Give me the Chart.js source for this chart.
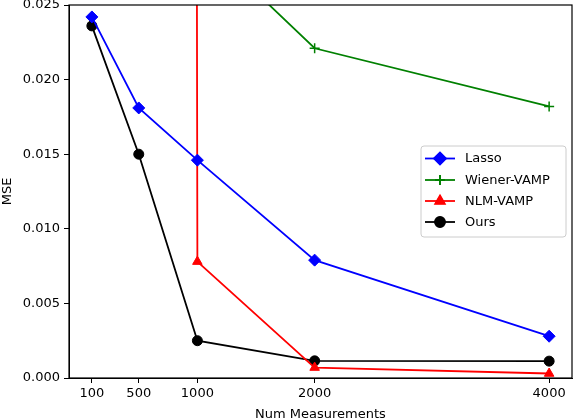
<!DOCTYPE html>
<html>
<head>
<meta charset="utf-8">
<script src="https://cdn.jsdelivr.net/npm/chart.js@4"></script>
<style>
html,body{margin:0;padding:0;background:#fff;}
#wrap{width:576px;height:420px;}
</style>
</head>
<body>
<div id="wrap"><canvas id="c" width="576" height="420"></canvas></div>
<script>
const measurements = [100, 500, 1000, 2000, 4000];
const xTickValues = [100, 500, 1000, 2000, 4000];
const lasso = [0.0242, 0.0181, 0.0146, 0.0079, 0.0028];
const wienerVamp = [0.045, 0.036, 0.0296, 0.0221, 0.0182];
const nlmVamp = [3.0, 2.5, 0.0078, 0.0007, 0.0003];
const ours = [0.0236, 0.0150, 0.0025, 0.00115, 0.00113];
const seriesNames = ['Lasso', 'Wiener-VAMP', 'NLM-VAMP', 'Ours'];

const FONT = 'DejaVu Sans';
function pts(arr){ return measurements.map((m,i)=>({x:m, y:arr[i]})); }

const specs = [
  {data: lasso, color:'#0000ff', style:'rectRot', r:6},
  {data: wienerVamp, color:'#008000', style:'cross', r:5},
  {data: nlmVamp, color:'#ff0000', style:'triangle', r:5.5},
  {data: ours, color:'#000000', style:'circle', r:5}
];

const datasets = specs.map((s,i)=>({
  label: seriesNames[i],
  data: pts(s.data),
  borderColor: s.color,
  backgroundColor: s.color,
  borderWidth: 1.8,
  pointStyle: s.style,
  pointRadius: s.r,
  pointHoverRadius: s.r,
  pointBorderWidth: s.style==='cross' ? 1.5 : 1,
  pointBorderColor: s.color,
  pointBackgroundColor: s.color,
  tension: 0,
  fill: false
}));

const framePlugin = {
  id: 'frame',
  afterDatasetsDraw(chart){
    const {ctx, chartArea:a} = chart;
    ctx.save();
    ctx.strokeStyle = '#000';
    ctx.lineWidth = 1.2;
    ctx.strokeRect(a.left, a.top, a.right-a.left, a.bottom-a.top);
    ctx.restore();
  },
  afterDraw(chart){
    const ctx = chart.ctx;
    ctx.save();
    const bx=421, by=146, bw=145, bh=91, rr=3;
    ctx.fillStyle='rgba(255,255,255,0.8)';
    ctx.strokeStyle='#cccccc';
    ctx.lineWidth=1;
    ctx.beginPath();
    ctx.moveTo(bx+rr,by); ctx.lineTo(bx+bw-rr,by); ctx.quadraticCurveTo(bx+bw,by,bx+bw,by+rr);
    ctx.lineTo(bx+bw,by+bh-rr); ctx.quadraticCurveTo(bx+bw,by+bh,bx+bw-rr,by+bh);
    ctx.lineTo(bx+rr,by+bh); ctx.quadraticCurveTo(bx,by+bh,bx,by+bh-rr);
    ctx.lineTo(bx,by+rr); ctx.quadraticCurveTo(bx,by,bx+rr,by);
    ctx.closePath(); ctx.fill(); ctx.stroke();
    const rows=[158.5,180,201,222];
    chart.data.datasets.forEach((ds,i)=>{
      const y=rows[i];
      ctx.strokeStyle=ds.borderColor; ctx.lineWidth=ds.borderWidth;
      ctx.beginPath(); ctx.moveTo(425,y); ctx.lineTo(455,y); ctx.stroke();
      Chart.helpers.drawPoint(ctx,{pointStyle:ds.pointStyle, radius:ds.pointRadius, rotation:0, borderWidth:ds.pointBorderWidth}, 440, y);
      ctx.fillStyle=ds.borderColor; ctx.strokeStyle=ds.borderColor;
      ctx.lineWidth=ds.pointBorderWidth;
      if(ds.pointStyle!=='cross'){ ctx.fill(); }
      ctx.stroke();
      ctx.fillStyle='#000'; ctx.font='13px "'+FONT+'"'; ctx.textBaseline='middle'; ctx.textAlign='left';
      ctx.fillText(ds.label, 465, y+0.5);
    });
    ctx.restore();
  }
};

new Chart(document.getElementById('c'), {
  type: 'line',
  data: { datasets },
  options: {
    responsive: false,
    animation: false,
    devicePixelRatio: 1,
    layout: { autoPadding: false, padding: { top: 5, right: 4, left: 0, bottom: -2 } },
    plugins: { legend: { display: false }, tooltip: { enabled: false } },
    scales: {
      x: {
        type: 'linear',
        min: -95, max: 4195,
        afterBuildTicks(scale){ scale.ticks = xTickValues.map(v=>({value:v})); },
        afterFit(scale){ scale.height = 44; scale.paddingLeft = 0; scale.paddingRight = 0; },
        grid: { display: true, drawOnChartArea: false, drawTicks: true, tickLength: 5, color: '#000', tickWidth: 1 },
        border: { display: true, color: '#000', width: 1 },
        ticks: { color: '#000', font: { family: FONT, size: 13 }, padding: 3, maxRotation: 0, autoSkip: false,
                 callback: v => String(v) },
        title: { display: true, text: 'Num Measurements', color: '#000', font: { family: FONT, size: 13 }, padding: { top: 0, bottom: 0 } }
      },
      y: {
        type: 'linear',
        min: 0, max: 0.025,
        afterFit(scale){ scale.width = 69; scale.paddingTop = 0; scale.paddingBottom = 0; },
        grid: { display: true, drawOnChartArea: false, drawTicks: true, tickLength: 5, color: '#000', tickWidth: 1 },
        border: { display: true, color: '#000', width: 1 },
        ticks: { stepSize: 0.005, color: '#000', font: { family: FONT, size: 13 }, padding: 4,
                 callback: v => Number(v).toFixed(3) },
        title: { display: true, text: 'MSE', color: '#000', font: { family: FONT, size: 13 }, padding: { top: 0, bottom: 0 } }
      }
    }
  },
  plugins: [framePlugin]
});
</script>
</body>
</html>
